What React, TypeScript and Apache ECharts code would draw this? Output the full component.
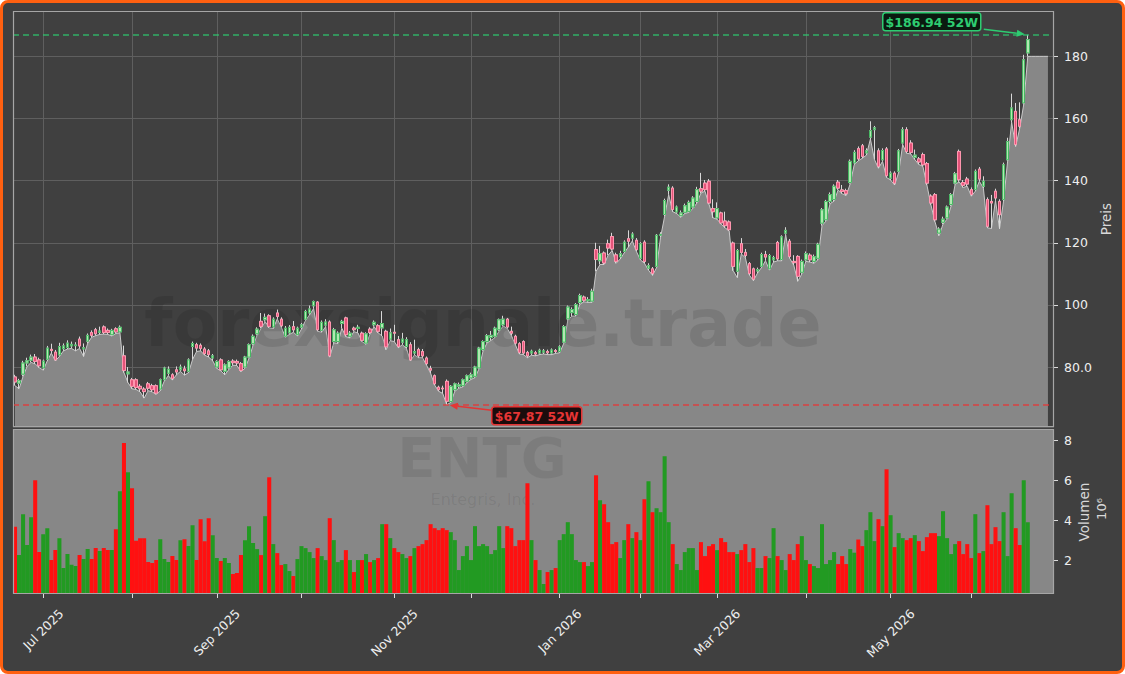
import React, { useEffect, useRef } from 'react';
import * as echarts from 'echarts';

// ---------- data ----------
const START_DATE = '2025-06-20';
const HOLIDAYS = ['2025-07-04', '2025-09-01', '2025-11-27', '2025-12-25', '2026-01-01', '2026-01-19', '2026-02-16', '2026-04-03', '2026-05-25', '2026-06-19'];
const FUTURE_SLOTS = 6;
const MONTHS = ['Jan', 'Feb', 'Mar', 'Apr', 'May', 'Jun', 'Jul', 'Aug', 'Sep', 'Oct', 'Nov', 'Dec'];

// [open, close, low, high]
const candles: [number, number, number, number][] = [
  [76.8, 75.2, 74.0, 77.5], [74.8, 75.6, 73.0, 76.2], [77.7, 81.3, 77.0, 82.0], [81.3, 82.0, 80.2, 83.0], [82.2, 83.2, 81.5, 84.0],
  [83.2, 81.8, 81.0, 84.2], [82.3, 80.4, 79.8, 83.0], [79.7, 81.9, 79.0, 82.4], [82.5, 86.1, 82.0, 86.8], [85.7, 85.3, 84.5, 87.5],
  [84.8, 82.3, 82.0, 85.5], [83.9, 86.6, 83.4, 87.8], [85.9, 86.8, 85.2, 87.6], [86.3, 87.7, 85.8, 88.6], [86.8, 87.3, 86.0, 88.2],
  [86.9, 87.1, 85.2, 88.0], [89.0, 86.8, 86.0, 89.8], [85.8, 86.2, 83.4, 87.6], [88.3, 90.2, 87.6, 90.8], [91.1, 90.2, 89.6, 91.8],
  [92.0, 90.7, 90.1, 92.6], [91.2, 91.6, 90.5, 93.0], [92.9, 91.1, 90.6, 93.4], [91.8, 91.1, 90.5, 92.4], [90.4, 91.8, 90.0, 92.3],
  [92.3, 91.3, 90.8, 92.8], [91.3, 92.8, 91.0, 93.4], [83.6, 78.9, 78.2, 86.9], [77.8, 78.4, 75.0, 80.0], [75.9, 73.8, 73.0, 76.5],
  [75.9, 73.4, 72.8, 76.4], [73.8, 73.0, 72.0, 74.5], [72.9, 72.1, 70.0, 73.5], [74.6, 73.2, 72.4, 75.2], [74.0, 72.7, 72.0, 74.6],
  [74.0, 71.6, 71.2, 74.4], [72.9, 75.9, 72.4, 76.3], [75.9, 79.7, 75.5, 80.1], [78.0, 79.3, 77.2, 80.2], [77.5, 76.3, 75.8, 78.0],
  [79.1, 78.4, 77.5, 80.2], [79.1, 80.0, 78.6, 80.8], [79.4, 78.8, 77.4, 80.4], [78.6, 82.3, 78.2, 82.8], [86.6, 87.6, 82.4, 88.2],
  [87.2, 86.1, 85.0, 87.8], [87.0, 86.0, 85.2, 87.6], [85.8, 84.3, 83.8, 86.4], [85.2, 84.0, 83.2, 85.8], [82.9, 83.6, 82.0, 84.2],
  [80.0, 81.8, 79.6, 82.2], [82.3, 79.1, 78.8, 82.8], [78.6, 80.7, 77.5, 81.2], [79.7, 81.8, 79.2, 82.2], [81.9, 81.4, 80.6, 82.5],
  [81.8, 81.3, 80.5, 82.4], [81.1, 78.9, 78.5, 81.6], [80.0, 83.2, 79.6, 83.6], [83.2, 87.2, 82.8, 87.6], [87.5, 89.9, 87.0, 90.5],
  [90.7, 92.2, 90.2, 92.8], [94.7, 93.1, 92.5, 97.4], [95.2, 96.0, 94.6, 97.2], [96.5, 93.1, 92.6, 97.0], [92.9, 95.4, 92.4, 96.0],
  [97.4, 96.3, 95.5, 98.5], [95.4, 93.3, 92.8, 96.0], [89.9, 92.5, 89.6, 93.2], [91.0, 92.8, 90.5, 93.5], [93.0, 92.0, 91.2, 94.8],
  [90.4, 92.5, 90.0, 93.0], [92.8, 93.6, 92.2, 94.2], [95.4, 97.9, 95.0, 98.4], [97.4, 98.7, 96.8, 99.8], [99.7, 101.1, 98.8, 101.4],
  [100.9, 92.0, 91.5, 101.2], [91.8, 94.4, 91.2, 95.0], [93.5, 94.5, 93.0, 95.4], [94.5, 83.6, 83.2, 95.0], [88.2, 92.0, 87.8, 92.6],
  [88.2, 90.9, 87.6, 91.5], [94.0, 94.7, 92.5, 95.2], [95.8, 90.4, 89.8, 96.2], [89.9, 90.9, 89.4, 91.6], [92.5, 92.0, 91.4, 93.0],
  [92.4, 92.8, 91.0, 93.6], [90.9, 88.6, 88.2, 91.4], [87.7, 90.7, 87.3, 91.2], [92.2, 91.1, 90.6, 92.8], [93.6, 94.4, 93.0, 95.0],
  [93.3, 91.5, 91.0, 93.8], [92.6, 94.0, 90.0, 98.0], [91.5, 86.5, 85.6, 92.0], [89.0, 91.0, 88.5, 92.4], [91.2, 90.9, 88.2, 93.6],
  [88.8, 86.6, 86.2, 90.0], [88.0, 89.0, 87.2, 91.0], [86.6, 88.8, 86.0, 89.6], [87.2, 82.3, 82.0, 88.0], [84.5, 85.0, 83.9, 88.8],
  [85.6, 83.6, 83.0, 86.2], [85.0, 83.6, 83.0, 85.8], [82.9, 81.1, 80.6, 83.4], [79.5, 79.0, 78.0, 80.4], [77.2, 74.6, 74.2, 77.6],
  [73.5, 72.7, 72.2, 74.0], [73.2, 73.0, 71.5, 74.0], [75.4, 69.0, 67.87, 76.0], [68.9, 73.8, 68.6, 74.2], [72.7, 74.6, 72.2, 75.0],
  [73.8, 74.3, 73.2, 75.0], [74.0, 75.9, 73.6, 76.3], [75.4, 77.2, 75.0, 77.6], [76.5, 77.5, 76.0, 78.2], [77.0, 80.0, 76.6, 80.4],
  [79.7, 86.1, 79.4, 86.5], [85.6, 88.2, 85.2, 88.6], [88.2, 90.1, 87.8, 90.6], [89.5, 90.2, 88.6, 91.6], [89.9, 92.5, 89.5, 93.0],
  [92.0, 95.2, 91.6, 95.6], [93.6, 95.4, 93.2, 96.5], [95.4, 92.9, 92.4, 95.8], [91.5, 90.9, 90.2, 93.0], [89.9, 87.7, 87.2, 90.4],
  [87.5, 84.7, 84.2, 88.0], [88.2, 84.5, 84.0, 88.6], [84.7, 83.6, 83.0, 85.2], [84.5, 85.1, 83.8, 85.6], [84.6, 84.2, 83.6, 85.2],
  [84.5, 85.4, 84.0, 85.9], [84.8, 85.2, 84.2, 85.8], [85.0, 84.6, 84.0, 85.6], [84.5, 85.5, 84.0, 86.0], [85.3, 85.0, 84.4, 85.8],
  [85.0, 86.5, 84.6, 87.0], [88.0, 93.0, 87.6, 93.5], [95.5, 99.3, 95.0, 99.8], [97.5, 98.5, 96.4, 99.2], [96.9, 100.1, 96.4, 100.6],
  [100.8, 103.0, 100.2, 103.6], [102.5, 101.5, 101.0, 103.0], [101.3, 101.7, 100.8, 102.5], [101.2, 104.4, 100.8, 105.2], [117.8, 114.6, 110.8, 120.0],
  [114.2, 116.5, 113.0, 119.0], [116.7, 113.5, 113.0, 117.2], [119.7, 118.3, 116.0, 121.0], [122.0, 118.0, 117.5, 123.2], [116.1, 114.0, 113.4, 116.8],
  [115.5, 116.5, 114.8, 117.4], [117.2, 120.2, 116.8, 120.8], [121.3, 120.5, 118.6, 124.0], [121.5, 122.8, 120.6, 123.4], [120.8, 117.8, 117.2, 121.5],
  [115.0, 119.7, 114.5, 120.2], [120.2, 114.0, 113.4, 120.8], [111.8, 112.6, 111.2, 113.4], [111.6, 110.1, 109.5, 112.2], [112.4, 122.4, 112.0, 122.8],
  [122.4, 122.7, 121.8, 123.4], [129.1, 133.6, 128.5, 134.2], [136.9, 137.9, 135.5, 138.8], [137.6, 130.7, 130.0, 138.2], [129.9, 131.5, 129.4, 132.0],
  [128.7, 129.6, 128.2, 130.4], [129.8, 131.9, 129.4, 132.6], [130.1, 133.0, 129.8, 133.6], [131.5, 134.4, 131.0, 135.0], [133.3, 137.1, 132.8, 138.0],
  [137.4, 136.6, 136.0, 142.5], [139.2, 137.1, 136.6, 140.2], [139.8, 132.8, 132.4, 140.5], [131.0, 130.0, 128.0, 134.0], [128.0, 131.0, 127.6, 133.0],
  [129.6, 126.4, 126.0, 130.0], [127.0, 125.5, 124.8, 130.0], [126.7, 124.2, 123.8, 127.2], [119.9, 112.4, 111.0, 120.4], [110.8, 117.5, 108.8, 118.0],
  [119.7, 116.9, 116.4, 121.5], [116.9, 115.9, 115.2, 118.0], [113.3, 110.1, 109.6, 113.8], [111.6, 108.3, 107.8, 112.0], [110.9, 111.4, 110.2, 112.0],
  [112.4, 116.2, 112.0, 116.8], [116.2, 115.4, 114.2, 117.4], [111.6, 115.9, 111.2, 116.4], [114.5, 115.2, 113.8, 115.8], [120.1, 114.8, 114.2, 120.6],
  [114.6, 121.9, 114.2, 122.4], [123.1, 124.0, 122.6, 125.0], [120.5, 115.6, 115.0, 121.2], [114.0, 113.6, 112.8, 116.0], [115.6, 109.2, 107.6, 116.0],
  [110.5, 114.0, 110.0, 114.6], [114.5, 116.5, 114.0, 117.2], [116.0, 114.5, 113.8, 116.6], [114.0, 115.5, 113.4, 116.2], [115.0, 119.5, 114.5, 120.0],
  [126.3, 130.6, 125.5, 131.2], [127.4, 133.3, 127.0, 133.8], [133.3, 135.5, 132.6, 136.2], [133.9, 138.2, 133.4, 138.8], [139.5, 137.6, 137.0, 140.2],
  [137.0, 136.5, 135.8, 138.6], [136.8, 135.8, 135.2, 137.4], [139.4, 146.2, 139.0, 146.8], [145.7, 149.1, 145.2, 149.8], [150.3, 147.0, 146.4, 151.0],
  [151.2, 147.8, 147.2, 151.8], [148.9, 149.6, 148.2, 150.4], [154.0, 156.1, 153.4, 159.1], [156.4, 157.0, 146.8, 157.6], [149.6, 144.6, 144.0, 150.4],
  [146.7, 149.7, 146.2, 150.4], [150.2, 141.6, 141.0, 150.8], [140.8, 142.4, 140.2, 143.0], [142.4, 139.2, 138.6, 143.0], [143.0, 149.6, 142.6, 150.2],
  [152.1, 156.4, 151.6, 157.2], [156.4, 149.4, 148.8, 157.2], [152.1, 149.1, 148.6, 153.0], [147.5, 148.2, 146.8, 150.0], [147.0, 146.0, 145.2, 147.6],
  [148.4, 145.1, 144.6, 149.0], [145.5, 139.2, 138.6, 146.0], [135.0, 132.8, 132.2, 135.6], [135.5, 127.4, 126.8, 136.0], [123.1, 124.4, 122.3, 125.0],
  [126.6, 127.6, 126.0, 128.4], [128.0, 131.5, 127.6, 132.0], [132.3, 135.5, 131.8, 136.0], [139.2, 142.2, 138.8, 142.8], [149.4, 140.3, 139.6, 150.0],
  [139.4, 138.5, 137.8, 140.2], [140.5, 138.9, 138.2, 141.2], [137.1, 135.5, 135.0, 137.8], [137.1, 143.0, 136.6, 143.6], [143.7, 140.5, 139.8, 144.4],
  [138.2, 139.8, 137.6, 141.4], [133.9, 125.3, 124.8, 134.6], [133.3, 132.8, 124.6, 135.4], [136.6, 134.4, 133.6, 137.4], [133.3, 129.0, 124.5, 134.0],
  [133.9, 145.1, 133.4, 145.8], [146.7, 152.6, 146.2, 153.8], [159.6, 163.4, 158.8, 168.0], [162.3, 151.6, 151.0, 165.0], [159.6, 157.5, 156.8, 165.2],
  [165.0, 178.9, 164.5, 180.5], [181.1, 185.4, 180.0, 186.94],
];

// volume in millions
const volumes: number[] = [
  3.67, 2.25, 4.3, 2.75, 4.15, 6.0, 2.4, 3.3, 3.6, 2.0,
  2.5, 3.1, 1.6, 2.3, 1.77, 1.7, 2.25, 2.05, 2.55, 2.05,
  2.6, 2.45, 2.6, 2.5, 2.5, 3.55, 5.45, 7.87, 6.4, 5.6,
  2.97, 3.1, 3.1, 1.9, 1.85, 2.0, 3.05, 2.05, 1.9, 2.2,
  2.0, 3.0, 3.05, 2.7, 3.75, 2.0, 4.05, 2.95, 4.1, 3.25,
  2.1, 1.95, 2.1, 1.85, 1.3, 1.35, 2.25, 3.0, 3.7, 2.85,
  2.55, 2.25, 4.2, 6.15, 2.8, 2.35, 1.75, 1.8, 1.45, 1.2,
  2.05, 2.7, 2.6, 2.4, 2.1, 2.6, 2.2, 2.0, 4.1, 3.0,
  1.9, 2.0, 2.5, 2.0, 1.4, 2.0, 2.0, 2.3, 1.9, 2.0,
  2.1, 3.8, 3.8, 3.1, 2.6, 2.4, 2.3, 2.1, 2.2, 2.6,
  2.7, 2.8, 3.0, 3.8, 3.6, 3.5, 3.6, 3.5, 3.4, 3.0,
  1.5, 2.2, 2.7, 2.0, 3.7, 2.7, 2.8, 2.7, 2.3, 2.5,
  3.7, 2.6, 3.7, 3.6, 2.7, 3.0, 3.0, 5.85, 3.0, 2.0,
  1.5, 0.8, 1.4, 1.5, 1.6, 3.0, 3.3, 3.9, 3.3, 2.0,
  1.9, 1.9, 1.7, 1.9, 6.25, 5.0, 4.8, 3.9, 2.8, 2.9,
  2.1, 3.0, 3.8, 3.1, 3.4, 3.0, 5.05, 5.95, 4.4, 4.6,
  4.4, 7.2, 3.9, 2.8, 1.8, 1.5, 2.4, 2.6, 2.6, 1.5,
  2.9, 2.2, 2.7, 2.8, 2.5, 3.1, 2.9, 2.4, 2.4, 2.3,
  2.5, 2.8, 1.9, 2.6, 1.6, 1.6, 2.2, 2.1, 3.6, 2.2,
  2.0, 1.5, 2.3, 2.0, 2.8, 3.2, 2.0, 1.8, 1.7, 1.6,
  3.8, 1.8, 2.0, 2.4, 1.8, 2.2, 1.8, 2.55, 2.37, 3.03,
  2.7, 3.5, 4.4, 2.95, 4.05, 3.7, 6.55, 4.25, 2.65, 3.35,
  3.1, 3.0, 3.1, 3.25, 2.95, 2.45, 3.15, 3.35, 3.35, 3.2,
  4.45, 3.1, 2.3, 2.8, 2.95, 2.3, 2.8, 2.1, 4.3, 2.35,
  2.45, 4.75, 2.8, 3.65, 2.95, 4.4, 2.2, 5.35, 3.6, 2.75,
  6.0, 3.9,
];

// gray block to the right of the last candle (price level)
const areaTail = [180, 180, 180, 180, 180];

const HIGH_52W = 186.94;
const LOW_52W = 67.87;
const TICKER = 'ENTG';
const COMPANY = 'Entegris, Inc.';
const WATERMARK = 'forexsignale.trade';

// ---------- layout ----------
const W = 1125;
const H = 674;
const G0 = { left: 13, top: 11, width: 1041, height: 416 };
const G1 = { left: 13, top: 429, width: 1041, height: 165 };
const PRICE_MIN = 60.7;
const PRICE_MAX = 194.6;
const VOL_MIN = 0.3;
const VOL_MAX = 8.57;
const FONT = 'DejaVu Sans';

function buildDates(start: string, count: number): string[] {
  const out: string[] = [];
  const d = new Date(start + 'T00:00:00Z');
  while (out.length < count) {
    const dow = d.getUTCDay();
    const s = d.toISOString().slice(0, 10);
    if (dow !== 0 && dow !== 6 && HOLIDAYS.indexOf(s) < 0) out.push(s);
    d.setUTCDate(d.getUTCDate() + 1);
  }
  return out;
}

export default function App() {
  const ref = useRef<HTMLDivElement>(null);

  useEffect(() => {
    document.body.style.margin = '0';
    const chart = echarts.init(ref.current!, null, { renderer: 'svg' });

    const categories = buildDates(START_DATE, candles.length + FUTURE_SLOTS);
    const isMonthStart = (i: number) =>
      i > 0 && i < categories.length && categories[i].slice(0, 7) !== categories[i - 1].slice(0, 7);

    const lows = candles.map((c) => c[2]);
    const areaData: (number | null)[] = [...lows, ...areaTail];
    const bodies = candles.map((c) => [c[0], c[1], Math.min(c[0], c[1]), Math.max(c[0], c[1])]);
    const volData = volumes.map((v, i) => ({
      value: v,
      itemStyle: { color: candles[i][1] >= candles[i][0] ? '#229a22' : '#ff1010' },
    }));

    const tickColor = '#dcdcdc';
    const gridLine = '#5f5f5f';

    const option: any = {
      animation: false,
      backgroundColor: 'transparent',
      textStyle: { fontFamily: FONT },
      grid: [
        { ...G0, containLabel: false, outerBoundsMode: 'none', show: false },
        { ...G1, containLabel: false, outerBoundsMode: 'none', show: true, backgroundColor: '#878787', borderWidth: 0 },
      ],
      xAxis: [
        {
          type: 'category', gridIndex: 0, data: categories, boundaryGap: true,
          axisLine: { show: false }, axisTick: { show: false }, axisLabel: { show: false },
          splitLine: { show: true, interval: (i: number) => isMonthStart(i), alignWithLabel: true, lineStyle: { color: gridLine, width: 1 } },
        },
        {
          type: 'category', gridIndex: 1, data: categories, boundaryGap: true,
          axisLine: { show: false },
          axisTick: { show: true, interval: (i: number) => isMonthStart(i), alignWithLabel: true, length: 4, lineStyle: { color: tickColor, width: 1 } },
          axisLabel: { show: false }, splitLine: { show: false },
        },
      ],
      yAxis: [
        {
          type: 'value', gridIndex: 0, position: 'right', min: PRICE_MIN, max: PRICE_MAX, splitNumber: 7,
          axisLine: { show: false },
          axisTick: { show: true, length: 4, lineStyle: { color: tickColor } },
          axisLabel: {
            color: '#eeeeee', fontSize: 12.5, margin: 10, showMinLabel: false, showMaxLabel: false, fontFamily: FONT,
            formatter: (v: number) => (v === 80 ? '80.0' : String(v)),
          },
          splitLine: { show: true, lineStyle: { color: gridLine, width: 1 } },
        },
        {
          type: 'value', gridIndex: 1, position: 'right', min: VOL_MIN, max: VOL_MAX, splitNumber: 4,
          axisLine: { show: false },
          axisTick: { show: true, length: 4, lineStyle: { color: tickColor } },
          axisLabel: { color: '#eeeeee', fontSize: 12.5, margin: 10, showMinLabel: false, showMaxLabel: false, fontFamily: FONT },
          splitLine: { show: false },
        },
      ],
      series: [
        {
          name: 'lowArea', type: 'line', xAxisIndex: 0, yAxisIndex: 0, data: areaData,
          symbol: 'none', silent: true, z: 1,
          lineStyle: { color: '#cacaca', width: 1 },
          areaStyle: { color: '#878787', opacity: 1, origin: 'start' },
        },
        {
          name: 'wicks', type: 'candlestick', xAxisIndex: 0, yAxisIndex: 0, data: candles, barWidth: 3, z: 3, silent: true,
          itemStyle: { color: 'rgba(0,0,0,0)', color0: 'rgba(0,0,0,0)', borderColor: '#d8d8d8', borderColor0: '#d8d8d8', borderWidth: 1 },
        },
        {
          name: 'bodies', type: 'candlestick', xAxisIndex: 0, yAxisIndex: 0, data: bodies, barWidth: 3, z: 4, silent: true,
          itemStyle: { color: '#b2e8b2', color0: '#e4547a', borderColor: '#46b862', borderColor0: '#ff95ae', borderWidth: 1 },
          markLine: {
            silent: true, symbol: 'none', label: { show: false },
            data: [
              { yAxis: HIGH_52W, lineStyle: { color: 'rgba(46,204,113,0.8)', width: 1.5, type: [6, 4] } },
              { yAxis: LOW_52W, lineStyle: { color: 'rgba(232,52,52,0.85)', width: 1.5, type: [6, 4] } },
            ],
          },
        },
        {
          name: 'volume', type: 'bar', xAxisIndex: 1, yAxisIndex: 1, data: volData,
          barWidth: '100%', barGap: '0%', z: 2, silent: true,
        },
      ],
    };

    chart.setOption(option);

    // ---------- overlay graphics ----------
    const g: any[] = [];
    g.push({ type: 'text', x: 483, y: 323, z: 2, silent: true, style: { text: WATERMARK, fontFamily: FONT, fontWeight: 'bold', fontSize: 65, fill: 'rgba(0,0,0,0.1)', align: 'center', verticalAlign: 'middle' } });
    g.push({ type: 'text', x: 482, y: 457, z: 2, silent: true, style: { text: TICKER, fontFamily: FONT, fontWeight: 'bold', fontSize: 56, fill: 'rgba(0,0,0,0.08)', align: 'center', verticalAlign: 'middle' } });
    g.push({ type: 'text', x: 483, y: 499, z: 2, silent: true, style: { text: COMPANY, fontFamily: FONT, fontSize: 16, fill: 'rgba(0,0,0,0.08)', align: 'center', verticalAlign: 'middle' } });

    // panel borders
    [G0, G1].forEach((gr) => {
      g.push({ type: 'rect', z: 10, silent: true, shape: { x: gr.left + 0.5, y: gr.top + 0.5, width: gr.width - 1, height: gr.height - 1 }, style: { fill: 'none', stroke: '#a6a6a6', lineWidth: 1.2 } });
    });

    // x tick labels
    const ctx = document.createElement('canvas').getContext('2d')!;
    const labelSize = 12.5;
    ctx.font = `${labelSize}px "${FONT}"`;
    categories.forEach((c, i) => {
      if (!isMonthStart(i)) return;
      const m = parseInt(c.slice(5, 7), 10) - 1;
      if (m % 2 !== 0) return;
      const text = `${MONTHS[m]} ${c.slice(0, 4)}`;
      const x = chart.convertToPixel({ xAxisIndex: 1 } as any, i) as unknown as number;
      const w = ctx.measureText(text).width;
      const side = (w + labelSize) * Math.SQRT1_2;
      g.push({ type: 'text', x, y: G1.top + G1.height + 13 + side / 2, rotation: Math.PI / 4, z: 10, silent: true, style: { text, fontFamily: FONT, fontSize: labelSize, fill: '#eeeeee', align: 'center', verticalAlign: 'middle' } });
    });

    // axis names
    g.push({ type: 'text', x: 1106, y: 219, rotation: Math.PI / 2, z: 10, silent: true, style: { text: 'Preis', fontFamily: FONT, fontSize: 13.5, fill: '#d8d8d8', align: 'center', verticalAlign: 'middle' } });
    g.push({ type: 'text', x: 1083.5, y: 512, rotation: Math.PI / 2, z: 10, silent: true, style: { text: 'Volumen', fontFamily: FONT, fontSize: 13.5, fill: '#d8d8d8', align: 'center', verticalAlign: 'middle' } });
    g.push({ type: 'text', x: 1101, y: 509, rotation: Math.PI / 2, z: 10, silent: true, style: { text: '10⁶', fontFamily: FONT, fontSize: 13, fill: '#d8d8d8', align: 'center', verticalAlign: 'middle' } });

    // 52W annotations
    let hiIdx = 0;
    let loIdx = 0;
    candles.forEach((c, i) => {
      if (c[3] > candles[hiIdx][3]) hiIdx = i;
      if (c[2] < candles[loIdx][2]) loIdx = i;
    });
    const hp = chart.convertToPixel({ xAxisIndex: 0, yAxisIndex: 0 } as any, [hiIdx, HIGH_52W]) as number[];
    const lp = chart.convertToPixel({ xAxisIndex: 0, yAxisIndex: 0 } as any, [loIdx, LOW_52W]) as number[];

    const arrow = (x1: number, y1: number, x2: number, y2: number, color: string) => {
      const ang = Math.atan2(y2 - y1, x2 - x1);
      const L = 8;
      const Wd = 3.5;
      const bx = x2 - L * Math.cos(ang);
      const by = y2 - L * Math.sin(ang);
      const px = -Math.sin(ang) * Wd;
      const py = Math.cos(ang) * Wd;
      g.push({ type: 'line', z: 20, silent: true, shape: { x1, y1, x2: bx, y2: by }, style: { stroke: color, lineWidth: 1.6 } });
      g.push({ type: 'polygon', z: 20, silent: true, shape: { points: [[x2, y2], [bx + px, by + py], [bx - px, by - py]] }, style: { fill: color } });
    };

    const green = '#2ecc71';
    const red = '#e53535';
    const hiText = `$${HIGH_52W.toFixed(2)} 52W`;
    const loText = `$${LOW_52W.toFixed(2)} 52W`;
    const hbx = hp[0] - 145;
    const hby = hp[1] - 22;
    g.push({ type: 'rect', z: 20, silent: true, shape: { x: hbx, y: hby, width: 98, height: 18, r: 3 }, style: { fill: '#0b1a10', stroke: green, lineWidth: 1.5 } });
    g.push({ type: 'text', z: 21, silent: true, x: hbx + 49, y: hby + 9.5, style: { text: hiText, fontFamily: FONT, fontWeight: 'bold', fontSize: 12.5, fill: green, align: 'center', verticalAlign: 'middle' } });
    arrow(hp[0] - 44, hp[1] - 5.5, hp[0] - 3, hp[1] - 0.5, green);
    const lbx = lp[0] + 45;
    const lby = lp[1] + 2;
    g.push({ type: 'rect', z: 20, silent: true, shape: { x: lbx, y: lby, width: 90, height: 18, r: 3 }, style: { fill: '#1c0c0c', stroke: red, lineWidth: 1.5 } });
    g.push({ type: 'text', z: 21, silent: true, x: lbx + 45, y: lby + 9.5, style: { text: loText, fontFamily: FONT, fontWeight: 'bold', fontSize: 12.5, fill: red, align: 'center', verticalAlign: 'middle' } });
    arrow(lp[0] + 45, lp[1] + 5.5, lp[0] + 3, lp[1] + 0.5, red);

    chart.setOption({ graphic: g });

    return () => chart.dispose();
  }, []);

  return (
    <div
      style={{
        position: 'fixed', left: 0, top: 0, width: W, height: H, boxSizing: 'border-box',
        border: '3px solid #ff6010', borderRadius: 8, background: '#404040', overflow: 'hidden',
      }}
    >
      <div ref={ref} style={{ position: 'absolute', left: -3, top: -3, width: W, height: H }} />
    </div>
  );
}
